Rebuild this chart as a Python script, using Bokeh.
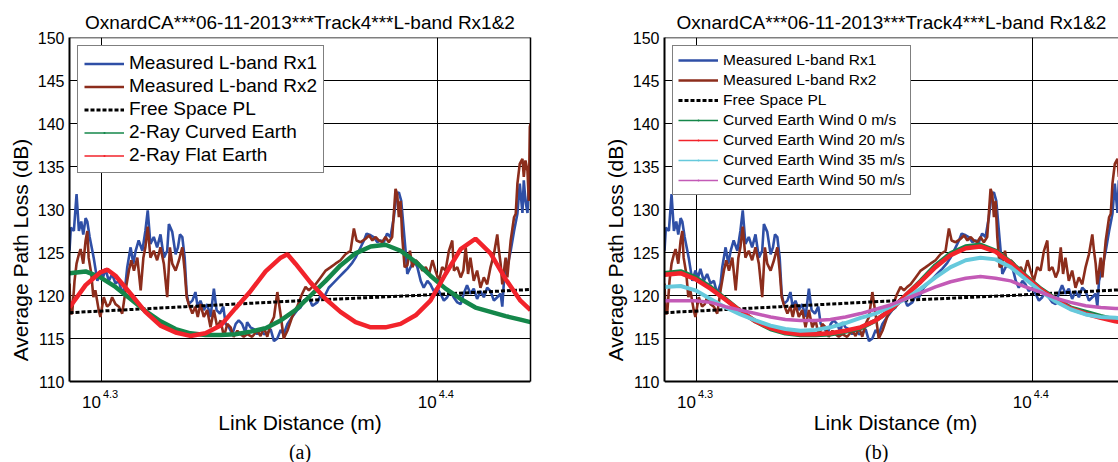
from bokeh.plotting import figure
from bokeh.layouts import row
from bokeh.models import (FixedTicker, Legend, LegendItem, Label, Span,
                          Range1d, LinearAxis)
from bokeh.embed import file_html
from bokeh.resources import INLINE

FONT = "Liberation Sans"
TITLE = "OxnardCA***06-11-2013***Track4***L-band Rx1&2"

# ---------------- data (log10 of link distance in m, path loss in dB) -------------
x_start_log = 4.2905
x_end_left_log = 4.4278
x_end_right_log = 4.4257
y_ticks = [110, 115, 120, 125, 130, 135, 140, 145, 150]
x_tick_logs = [4.3, 4.4]
x_tick_exps = ["4.3", "4.4"]

rx1_logd = [4.2905, 4.2909, 4.2918, 4.2926, 4.2933, 4.2940, 4.2946, 4.2953, 4.2958, 4.2965,
            4.2973, 4.2977, 4.2988, 4.2997, 4.3005, 4.3012, 4.3022, 4.3032, 4.3042, 4.3052,
            4.3062, 4.3072, 4.3077, 4.3087, 4.3095, 4.3102, 4.3111, 4.3122, 4.3131, 4.3138,
            4.3146, 4.3156, 4.3166, 4.3176, 4.3186, 4.3196, 4.3201, 4.3211, 4.3221, 4.3228,
            4.3234, 4.3241, 4.3248, 4.3254, 4.3260, 4.3271, 4.3280, 4.3287, 4.3295, 4.3305,
            4.3315, 4.3325, 4.3335, 4.3343, 4.3353, 4.3363, 4.3370, 4.3380, 4.3390, 4.3400,
            4.3409, 4.3419, 4.3429, 4.3434, 4.3444, 4.3454, 4.3464, 4.3474, 4.3484, 4.3494,
            4.3504, 4.3514, 4.3524, 4.3534, 4.3543, 4.3554, 4.3568, 4.3583, 4.3593, 4.3603,
            4.3618, 4.3628, 4.3643, 4.3653, 4.3663, 4.3677, 4.3692, 4.3707, 4.3722, 4.3732,
            4.3747, 4.3757, 4.3767, 4.3782, 4.3790, 4.3802, 4.3811, 4.3822, 4.3831, 4.3841,
            4.3851, 4.3861, 4.3871, 4.3879, 4.3886, 4.3893, 4.3899, 4.3906, 4.3911, 4.3921,
            4.3931, 4.3941, 4.3951, 4.3960, 4.3971, 4.3980, 4.3990, 4.4000, 4.4010, 4.4020,
            4.4030, 4.4040, 4.4049, 4.4060, 4.4070, 4.4079, 4.4089, 4.4099, 4.4109, 4.4119,
            4.4129, 4.4139, 4.4149, 4.4159, 4.4169, 4.4179, 4.4189, 4.4194, 4.4199, 4.4209,
            4.4219, 4.4229, 4.4239, 4.4246, 4.4254, 4.4258, 4.4263, 4.4269, 4.4273, 4.4278]
rx1_db = [125.2, 127.9, 127.5, 131.8, 127.5, 128.6, 127.1, 129.0, 128.6, 126.8,
          125.2, 124.4, 121.7, 122.9, 122.1, 123.1, 121.7, 122.5, 121.4, 121.7,
          120.2, 121.4, 123.3, 125.6, 123.7, 125.2, 126.4, 125.2, 127.5, 129.9,
          126.0, 126.8, 125.6, 127.1, 124.4, 125.2, 128.3, 127.4, 124.8, 125.6,
          127.1, 126.8, 124.4, 120.2, 119.0, 119.4, 120.4, 118.6, 119.4, 118.3,
          119.0, 117.5, 120.8, 118.3, 117.9, 118.7, 116.7, 116.3, 115.5, 116.7,
          117.1, 116.7, 115.7, 116.9, 116.3, 116.1, 115.5, 116.1, 115.5, 115.6,
          116.1, 114.7, 115.0, 116.0, 115.5, 116.7, 117.5, 118.3, 118.6, 119.4,
          119.8, 118.8, 119.2, 120.0, 119.8, 120.9, 121.5, 122.1, 122.7, 123.1,
          123.8, 124.4, 125.2, 126.4, 127.2, 127.0, 126.8, 126.2, 126.4, 126.2,
          127.2, 126.8, 129.1, 131.8, 132.0, 131.0, 128.3, 125.2, 122.5, 123.3,
          124.1, 123.3, 121.7, 120.9, 121.7, 121.3, 120.5, 120.9, 120.2, 119.4,
          119.8, 120.5, 119.8, 119.2, 119.0, 120.2, 121.2, 120.2, 120.8, 119.6,
          120.5, 119.8, 120.9, 120.5, 119.4, 119.8, 120.2, 118.7, 121.7, 123.3,
          125.2, 127.5, 129.5, 133.0, 129.6, 133.4, 131.0, 129.6, 133.0, 131.4]

rx2_logd = [4.2905, 4.2908, 4.2913, 4.2920, 4.2926, 4.2933, 4.2938, 4.2946, 4.2953, 4.2958,
            4.2962, 4.2970, 4.2976, 4.2982, 4.2992, 4.2997, 4.3007, 4.3017, 4.3025, 4.3032,
            4.3042, 4.3052, 4.3062, 4.3072, 4.3082, 4.3089, 4.3097, 4.3107, 4.3117, 4.3125,
            4.3131, 4.3138, 4.3146, 4.3156, 4.3166, 4.3176, 4.3186, 4.3196, 4.3204, 4.3211,
            4.3221, 4.3231, 4.3241, 4.3248, 4.3254, 4.3260, 4.3271, 4.3280, 4.3287, 4.3295,
            4.3305, 4.3315, 4.3325, 4.3335, 4.3345, 4.3355, 4.3365, 4.3375, 4.3385, 4.3394,
            4.3405, 4.3414, 4.3424, 4.3434, 4.3449, 4.3464, 4.3474, 4.3484, 4.3494, 4.3504,
            4.3514, 4.3524, 4.3534, 4.3543, 4.3554, 4.3568, 4.3583, 4.3598, 4.3608, 4.3618,
            4.3628, 4.3638, 4.3653, 4.3668, 4.3683, 4.3697, 4.3712, 4.3727, 4.3742, 4.3752,
            4.3760, 4.3772, 4.3787, 4.3797, 4.3807, 4.3817, 4.3826, 4.3836, 4.3846, 4.3856,
            4.3866, 4.3876, 4.3881, 4.3886, 4.3891, 4.3896, 4.3903, 4.3911, 4.3919, 4.3926,
            4.3936, 4.3946, 4.3956, 4.3966, 4.3976, 4.3986, 4.3995, 4.4005, 4.4015, 4.4025,
            4.4035, 4.4045, 4.4050, 4.4060, 4.4070, 4.4078, 4.4085, 4.4092, 4.4099, 4.4109,
            4.4119, 4.4129, 4.4139, 4.4149, 4.4159, 4.4169, 4.4179, 4.4184, 4.4189, 4.4194,
            4.4199, 4.4204, 4.4209, 4.4219, 4.4229, 4.4234, 4.4239, 4.4246, 4.4254, 4.4258,
            4.4263, 4.4269, 4.4273, 4.4276, 4.4278]
rx2_db = [121.4, 117.9, 117.9, 121.7, 123.7, 124.8, 125.4, 123.7, 126.4, 127.5,
          124.4, 122.5, 119.8, 120.6, 118.3, 117.5, 119.8, 118.7, 119.0, 119.8,
          119.0, 118.7, 117.9, 120.6, 122.9, 124.1, 122.9, 124.4, 120.6, 124.4,
          125.6, 128.0, 124.4, 125.2, 124.1, 125.6, 123.7, 119.8, 125.6, 123.7,
          122.9, 124.1, 125.6, 122.9, 119.8, 119.0, 117.9, 118.7, 117.5, 119.0,
          117.5, 118.3, 116.3, 118.3, 116.3, 117.1, 115.2, 116.7, 116.3, 115.2,
          115.9, 115.5, 115.2, 115.5, 115.2, 115.9, 115.3, 116.3, 115.2, 116.7,
          117.5, 120.4, 117.7, 115.0, 115.9, 117.5, 118.7, 120.2, 121.0, 120.6,
          121.0, 121.3, 122.1, 122.9, 123.3, 123.7, 124.1, 124.8, 125.2, 127.8,
          126.4, 126.2, 126.6, 127.0, 126.4, 126.8, 126.4, 126.2, 126.8, 126.2,
          126.8, 132.4, 131.8, 129.1, 131.0, 126.8, 123.3, 123.5, 125.2, 123.3,
          124.1, 123.7, 122.9, 123.3, 122.5, 124.1, 122.9, 121.7, 123.3, 122.9,
          125.2, 126.4, 122.9, 123.3, 122.1, 122.9, 125.6, 122.5, 124.4, 121.7,
          122.9, 120.9, 122.1, 121.3, 123.3, 124.8, 127.1, 125.2, 123.7, 121.3,
          122.9, 124.4, 122.1, 126.4, 129.1, 129.5, 133.0, 135.3, 135.9, 133.8,
          135.7, 134.5, 131.0, 139.6, 140.0]

fs_logd = [4.2905, 4.3251, 4.3593, 4.3936, 4.4278]
fs_db = [118.0, 118.7, 119.4, 120.0, 120.7]

model_logd = [4.2905, 4.2953, 4.2997, 4.3042, 4.3087, 4.3131, 4.3176, 4.3221, 4.3265, 4.3310,
              4.3355, 4.3399, 4.3444, 4.3489, 4.3534, 4.3578, 4.3623, 4.3668, 4.3712, 4.3757,
              4.3802, 4.3846, 4.3891, 4.3936, 4.3980, 4.4025, 4.4070, 4.4114, 4.4159, 4.4204,
              4.4248, 4.4278]
curved_db = [122.6, 122.8, 122.1, 121.0, 119.6, 118.2, 117.0, 116.1, 115.6, 115.4,
             115.4, 115.5, 115.8, 116.2, 117.1, 118.3, 120.0, 121.7, 123.5, 124.9,
             125.7, 125.9, 125.2, 123.9, 122.3, 120.8, 119.6, 118.6, 118.1, 117.6,
             117.2, 116.9]
wind20_db = [122.4, 122.6, 121.9, 120.8, 119.5, 118.2, 117.0, 116.2, 115.7, 115.5,
             115.5, 115.6, 115.9, 116.3, 117.1, 118.3, 120.0, 121.6, 123.3, 124.7,
             125.5, 125.7, 125.1, 123.8, 122.2, 120.7, 119.5, 118.5, 117.9, 117.4,
             117.0, 116.8]
wind35_db = [121.0, 121.1, 120.6, 119.6, 118.6, 117.8, 117.1, 116.5, 116.1, 115.9,
             116.0, 116.3, 116.8, 117.4, 117.9, 118.7, 119.6, 120.8, 122.1, 123.3,
             124.1, 124.4, 124.2, 123.3, 121.9, 120.5, 119.3, 118.4, 117.8, 117.5,
             117.4, 117.3]
wind50_db = [119.4, 119.4, 119.4, 119.2, 118.7, 118.3, 117.9, 117.5, 117.2, 117.1,
             117.1, 117.2, 117.5, 117.9, 118.4, 118.9, 119.6, 120.3, 121.0, 121.6,
             122.0, 122.2, 122.0, 121.7, 121.0, 120.4, 119.7, 119.2, 118.8, 118.6,
             118.5, 118.4]

flat_logd = [4.2905, 4.2953, 4.2997, 4.3018, 4.3042, 4.3087, 4.3131, 4.3176, 4.3221, 4.3265,
             4.3310, 4.3355, 4.3399, 4.3444, 4.3489, 4.3534, 4.3554, 4.3578, 4.3623, 4.3668,
             4.3712, 4.3757, 4.3802, 4.3846, 4.3891, 4.3936, 4.3980, 4.4025, 4.4070, 4.4114,
             4.4159, 4.4204, 4.4248, 4.4278]
flat_db = [118.6, 121.2, 122.7, 123.0, 122.3, 120.2, 118.1, 116.5, 115.7, 115.3,
           115.6, 116.5, 118.5, 120.5, 122.8, 124.4, 124.8, 123.7, 121.5, 119.6,
           118.1, 116.9, 116.3, 116.3, 116.7, 117.7, 119.4, 122.5, 125.4, 126.6,
           124.9, 121.9, 119.4, 118.3]

C_RX1 = "#2F4FA6"
C_RX2 = "#8C2D1C"
C_GREEN = "#14874A"
C_RED = "#F2232B"
C_CYAN = "#66C9DC"
C_MAG = "#C35AB6"

# the plot frame extends below 110 dB so that the tick labels, the axis title and the
# panel caption can be placed as text in data space (frame: 37 px top, to page bottom)
Y_LOW = 110 - 81 / 8.6


def dist(logs):
    return [10 ** v for v in logs]


def base_fig(width, min_left, min_right, x_end, caption, caption_log, xlabel_log, right_border):
    p = figure(width=width, height=462, x_axis_type="log",
               x_range=Range1d(10 ** x_start_log, 10 ** x_end),
               y_range=Range1d(Y_LOW, 150),
               output_backend="svg", toolbar_location=None,
               min_border_left=min_left, min_border_right=min_right,
               min_border_top=37, min_border_bottom=0, title=TITLE)
    p.background_fill_color = "white"
    p.border_fill_color = "white"
    p.outline_line_color = None
    p.title.text_font = FONT
    p.title.text_font_size = "19px"
    p.title.text_font_style = "normal"
    p.title.align = "center"
    p.title.standoff = 10
    p.title.text_color = "black"

    p.yaxis.ticker = FixedTicker(ticks=y_ticks)
    p.yaxis.bounds = (110, 150)
    p.yaxis.major_label_text_font = FONT
    p.yaxis.major_label_text_font_size = "16px"
    p.yaxis.major_label_text_color = "black"
    p.yaxis.major_tick_out = 0
    p.yaxis.major_tick_in = 0
    p.yaxis.minor_tick_out = 0
    p.yaxis.axis_line_width = 2
    p.yaxis.axis_line_color = "black"
    p.yaxis.axis_label = "Average Path Loss (dB)"
    p.yaxis.axis_label_text_font = FONT
    p.yaxis.axis_label_text_font_size = "21px"
    p.yaxis.axis_label_text_font_style = "normal"
    p.yaxis.axis_label_text_color = "black"
    p.yaxis.axis_label_standoff = 3
    p.yaxis.major_label_standoff = 5

    p.xaxis.visible = False
    p.xgrid.ticker = FixedTicker(ticks=[10 ** v for v in x_tick_logs])
    p.xgrid.cross_bounds = (110, 150)
    p.xgrid.grid_line_color = "black"
    p.ygrid.grid_line_color = "black"
    p.xgrid.grid_line_width = 1
    p.ygrid.grid_line_width = 1

    p.add_layout(Span(location=150, dimension="width", line_color="black", line_width=1.5))
    p.add_layout(Span(location=110, dimension="width", line_color="black", line_width=2))
    if right_border:
        rax = LinearAxis(ticker=FixedTicker(ticks=[]), bounds=(110, 150),
                         major_tick_out=0, major_tick_in=0, minor_tick_out=0,
                         minor_tick_in=0, axis_line_width=1.5, axis_line_color="black")
        p.add_layout(rax, "right")

    for lg, ex in zip(x_tick_logs, x_tick_exps):
        p.add_layout(Label(x=10 ** lg, y=107.59, text="10", text_align="right",
                           x_offset=-0.5, text_baseline="middle",
                           text_font=FONT, text_font_size="17px", text_color="black"))
        p.add_layout(Label(x=10 ** lg, y=108.52, text=ex, text_align="left",
                           x_offset=1.5, text_baseline="middle",
                           text_font=FONT, text_font_size="11px", text_color="black"))
    p.add_layout(Label(x=10 ** xlabel_log, y=105.29, text="Link Distance (m)",
                       text_align="center", text_baseline="middle",
                       text_font=FONT, text_font_size="21px", text_color="black"))
    p.add_layout(Label(x=10 ** caption_log, y=101.86, text=caption, text_align="center",
                       text_baseline="middle", text_font="Liberation Serif",
                       text_font_size="20px", text_color="black"))
    return p


def measured(p):
    r1 = p.line(dist(rx1_logd), rx1_db, line_color=C_RX1, line_width=2.6)
    r2 = p.line(dist(rx2_logd), rx2_db, line_color=C_RX2, line_width=2.6)
    fs = p.line(dist(fs_logd), fs_db, line_color="black", line_width=3, line_dash="4 2")
    return r1, r2, fs


def model(p, logs, vals, color, width):
    thin = p.line(dist(logs), vals, line_color=color, line_width=1.3)
    dots = p.scatter(dist(logs), vals, size=6, color=color, marker="dot")
    p.line(dist(logs), vals, line_color=color, line_width=width)
    return [thin, dots]


def legend(p, items, font_size, row_h, spacing, padding):
    lg = Legend(items=items, location="top_left", label_text_font=FONT,
                label_text_font_size=font_size, label_text_color="black",
                glyph_width=40, glyph_height=row_h, label_height=row_h,
                spacing=spacing, padding=padding, margin=8, label_standoff=5,
                border_line_color="black", border_line_width=1.5,
                background_fill_color="white", background_fill_alpha=1)
    p.add_layout(lg)


mid_left = (x_start_log + x_end_left_log) / 2

# ---------------- panel (a) ----------------
pa = base_fig(595, 69, 65, x_end_left_log, "(a)", mid_left, mid_left, True)
a1, a2, afs = measured(pa)
a_curved = model(pa, model_logd, curved_db, C_GREEN, 4.5)
a_flat = model(pa, flat_logd, flat_db, C_RED, 4.5)
legend(pa, [LegendItem(label="Measured L-band Rx1", renderers=[a1]),
            LegendItem(label="Measured L-band Rx2", renderers=[a2]),
            LegendItem(label="Free Space PL", renderers=[afs]),
            LegendItem(label="2-Ray Curved Earth", renderers=a_curved),
            LegendItem(label="2-Ray Flat Earth", renderers=a_flat)],
       "19px", 21, 1, 6)

# ---------------- panel (b) ----------------
pb = base_fig(523, 69, 0, x_end_right_log, "(b)", 4.3537, 4.3593, False)
b1, b2, bfs = measured(pb)
b0 = model(pb, model_logd, curved_db, C_GREEN, 4.5)
b20 = model(pb, model_logd, wind20_db, C_RED, 4.5)
b35 = model(pb, model_logd, wind35_db, C_CYAN, 4)
b50 = model(pb, model_logd, wind50_db, C_MAG, 3.5)
legend(pb, [LegendItem(label="Measured L-band Rx1", renderers=[b1]),
            LegendItem(label="Measured L-band Rx2", renderers=[b2]),
            LegendItem(label="Free Space PL", renderers=[bfs]),
            LegendItem(label="Curved Earth Wind 0 m/s", renderers=b0),
            LegendItem(label="Curved Earth Wind 20 m/s", renderers=b20),
            LegendItem(label="Curved Earth Wind 35 m/s", renderers=b35),
            LegendItem(label="Curved Earth Wind 50 m/s", renderers=b50)],
       "15.5px", 18, 2, 5)

layout = row(pa, pb)
open("out.html", "w").write(file_html(layout, INLINE))
